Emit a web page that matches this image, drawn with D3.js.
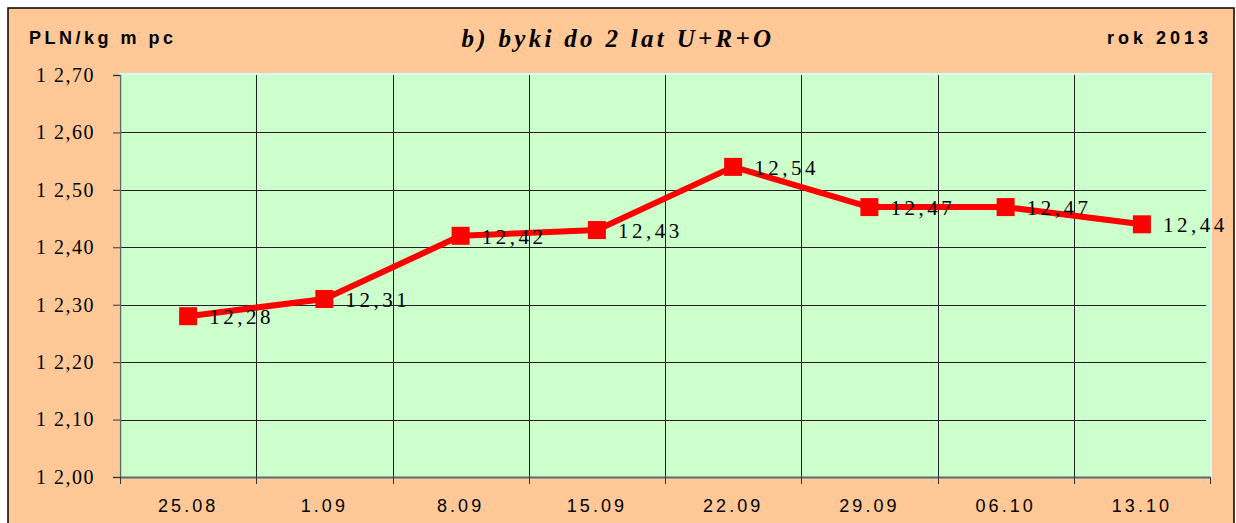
<!DOCTYPE html>
<html>
<head>
<meta charset="utf-8">
<script src="https://cdn.jsdelivr.net/npm/d3@7"></script>
<style>
  body { margin: 0; background: #fff; }
  svg { display: block; }
</style>
</head>
<body>
<svg id="chart" width="1236" height="523"></svg>
<script>
'use strict';

// data
const categories = ["25.08", "1.09", "8.09", "15.09", "22.09", "29.09", "06.10", "13.10"];
const prices = [12.28, 12.31, 12.42, 12.43, 12.54, 12.47, 12.47, 12.44];
const yTicks = [12.00, 12.10, 12.20, 12.30, 12.40, 12.50, 12.60, 12.70];
const yTickLabels = ["1 2,00", "1 2,10", "1 2,20", "1 2,30", "1 2,40", "1 2,50", "1 2,60", "1 2,70"];

const svg = d3.select("#chart");

let margin = {top: 75, right: 26, bottom: 46, left: 120},
  width = 1236 - margin.left - margin.right,
  height = 523 - margin.top - margin.bottom;

// outer frame
svg.append("rect")
  .attr("x", 8).attr("y", 8)
  .attr("width", 1226).attr("height", 530)
  .attr("fill", "#FFC896")
  .attr("stroke", "#000")
  .attr("stroke-width", 1.5);

let g = svg.append("g").attr("transform", "translate(" + margin.left + "," + margin.top + ")");

let x = d3.scaleBand().domain(categories).range([0, width]);
let y = d3.scaleLinear().domain([12.00, 12.70]).range([height, 0]);

// plot area
g.append("rect")
  .attr("x", 0).attr("y", -1)
  .attr("width", width + 1).attr("height", height + 1)
  .attr("fill", "#CCFFCC")
  .attr("stroke", "#CCFFFF")
  .attr("stroke-width", 2);

// horizontal grid
g.append("g")
  .selectAll("line")
  .data(yTicks.slice(1, -1))
  .enter().append("line")
  .attr("x1", 0).attr("x2", width - 4)
  .attr("y1", d => Math.round(y(d)) + 0.5)
  .attr("y2", d => Math.round(y(d)) + 0.5)
  .attr("stroke", "#222").attr("stroke-width", 1);

// vertical grid
g.append("g")
  .selectAll("line")
  .data(categories.slice(1))
  .enter().append("line")
  .attr("x1", d => Math.round(x(d)) + 0.5)
  .attr("x2", d => Math.round(x(d)) + 0.5)
  .attr("y1", 0).attr("y2", height)
  .attr("stroke", "#222").attr("stroke-width", 1);

// y axis
let yAxis = g.append("g")
  .call(d3.axisLeft(y).tickValues(yTicks).tickSize(7).tickPadding(18)
    .tickFormat((d, i) => yTickLabels[i]));
yAxis.select(".domain").attr("stroke", "#5a6a6a").attr("stroke-width", 1.5);
yAxis.selectAll(".tick line").attr("stroke", "#333");
yAxis.selectAll("text")
  .attr("font-family", "'Liberation Serif', 'Times New Roman', serif")
  .attr("font-size", 20)
  .attr("letter-spacing", "1.5px")
  .attr("fill", "#000");

// x axis
let xAxis = g.append("g")
  .attr("transform", "translate(0," + height + ")")
  .call(d3.axisBottom(x).tickSize(0).tickPadding(22));
xAxis.select(".domain").attr("stroke", "#5a6a6a").attr("stroke-width", 2);
xAxis.selectAll("text")
  .attr("font-family", "'Liberation Sans', Arial, sans-serif")
  .attr("font-size", 18)
  .attr("letter-spacing", "3px")
  .attr("fill", "#000");
g.append("g")
  .selectAll("line")
  .data(categories.concat([null]))
  .enter().append("line")
  .attr("x1", (d, i) => Math.round(i * x.step()) + 0.5)
  .attr("x2", (d, i) => Math.round(i * x.step()) + 0.5)
  .attr("y1", height).attr("y2", height + 7)
  .attr("stroke", "#333");

// series line
let line = d3.line()
  .x((d, i) => x(categories[i]) + x.bandwidth() / 2)
  .y(d => y(d));

g.append("path")
  .datum(prices)
  .attr("d", line)
  .attr("fill", "none")
  .attr("stroke", "#FF0000")
  .attr("stroke-width", 6)
  .attr("stroke-linejoin", "round");

const MARK = 18;
g.append("g")
  .selectAll("rect")
  .data(prices)
  .enter().append("rect")
  .attr("x", (d, i) => x(categories[i]) + x.bandwidth() / 2 - MARK / 2)
  .attr("y", d => y(d) - MARK / 2)
  .attr("width", MARK).attr("height", MARK)
  .attr("fill", "#FF0000");

// value labels
g.append("g")
  .selectAll("text")
  .data(prices)
  .enter().append("text")
  .attr("x", (d, i) => x(categories[i]) + x.bandwidth() / 2 + 21)
  .attr("y", d => y(d) + 8)
  .attr("font-family", "'Liberation Serif', 'Times New Roman', serif")
  .attr("font-size", 21)
  .attr("letter-spacing", "3.5px")
  .attr("fill", "#000")
  .text(d => d3.format(".2f")(d).replace(".", ","));

// titles
svg.append("text")
  .attr("x", 29).attr("y", 44)
  .attr("font-family", "'Liberation Sans', Arial, sans-serif")
  .attr("font-weight", "bold")
  .attr("font-size", 18)
  .attr("letter-spacing", "3.5px")
  .text("PLN/kg m pc");

svg.append("text")
  .attr("x", 618).attr("y", 47)
  .attr("text-anchor", "middle")
  .attr("font-family", "'Liberation Serif', 'Times New Roman', serif")
  .attr("font-weight", "bold")
  .attr("font-style", "italic")
  .attr("font-size", 25)
  .attr("letter-spacing", "3.3px")
  .text("b) byki do 2 lat U+R+O");

svg.append("text")
  .attr("x", 1212).attr("y", 44)
  .attr("text-anchor", "end")
  .attr("font-family", "'Liberation Sans', Arial, sans-serif")
  .attr("font-weight", "bold")
  .attr("font-size", 18)
  .attr("letter-spacing", "4px")
  .text("rok 2013");
</script>
</body>
</html>
